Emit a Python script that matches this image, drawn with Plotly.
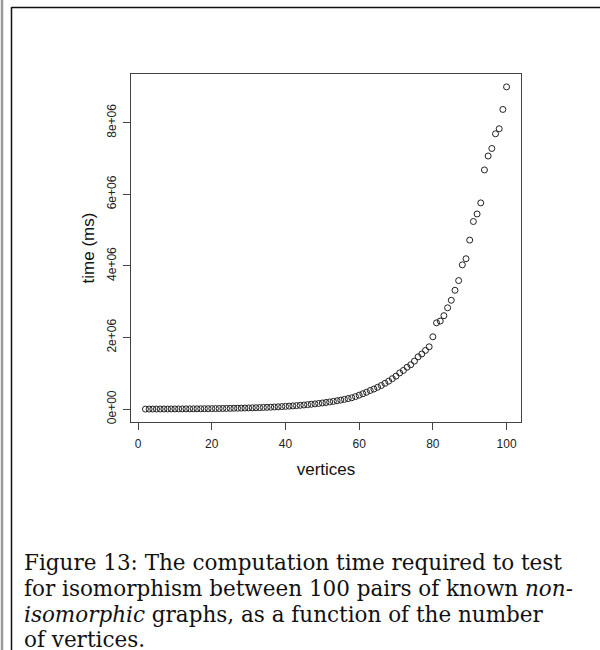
import plotly.graph_objects as go

vertices = list(range(2, 101))
time_ms = [
    1000, 1500, 2000, 2500, 3000, 3500, 4000, 4500, 5000,            # 2-10
    5500, 6000, 6800, 7500, 8200, 9000, 10000, 11000, 12000, 13500,  # 11-20
    14500, 16000, 17500, 19000, 21000, 23000, 25000, 27000, 30000, 33000,  # 21-30
    36000, 39000, 42000, 46000, 50000, 54000, 59000, 64000, 70000, 76000,  # 31-40
    83000, 90000, 98000, 106000, 115000, 125000, 135000, 146000, 158000, 171000,  # 41-50
    185000, 200000, 216000, 233000, 252000, 272000, 294000, 317000, 350000, 390000,  # 51-60
    430000, 470000, 520000, 560000, 610000, 660000, 720000, 780000, 850000, 920000,  # 61-70
    1010000, 1080000, 1170000, 1240000, 1340000, 1460000, 1540000, 1640000, 1740000, 2020000,  # 71-80
    2410000, 2460000, 2610000, 2830000, 3040000, 3320000, 3590000, 4030000, 4200000, 4720000,  # 81-90
    5240000, 5450000, 5760000, 6680000, 7070000, 7280000, 7690000, 7830000, 8370000, 9000000,  # 91-100
]

x_ticks = [0, 20, 40, 60, 80, 100]
y_ticks = [0, 2e6, 4e6, 6e6, 8e6]
y_tick_labels = ["0e+00", "2e+06", "4e+06", "6e+06", "8e+06"]

caption_lines = [
    "Figure 13: The computation time required to test",
    "for isomorphism between 100 pairs of known <i>non-</i>",
    "<i>isomorphic</i> graphs, as a function of the number",
    "of vertices.",
]

fig = go.Figure()
fig.add_trace(go.Scatter(
    x=vertices, y=time_ms, mode="markers",
    marker=dict(symbol="circle-open", size=6, color="#222222", line=dict(width=1, color="#222222")),
    showlegend=False,
))

axis_common = dict(
    showline=True, linecolor="#444444", linewidth=1, mirror=True,
    ticks="outside", ticklen=7, tickcolor="#444444", tickwidth=1,
    showgrid=False, zeroline=False,
    tickfont=dict(family="Liberation Sans, Arial, sans-serif", size=12, color="#222222"),
    title_font=dict(family="Liberation Sans, Arial, sans-serif", size=17, color="#111111"),
)

fig.update_xaxes(range=[-1.92, 103.92], tickvals=x_ticks, ticklabelstandoff=4,
                 title_text="vertices", title_standoff=12, **axis_common)
fig.update_yaxes(range=[-360000, 9360000], tickvals=y_ticks, ticktext=y_tick_labels,
                 tickangle=-90, ticklabelstandoff=2,
                 title_text="time (ms)", title_standoff=6, **axis_common)

pw = 390.0
ph = 348.0
def px_x(p):
    return (p - 131) / pw
def px_y(p):
    return (422 - p) / ph

shapes = [
    dict(type="line", xref="paper", yref="paper", x0=px_x(2), x1=px_x(2), y0=px_y(0), y1=px_y(650),
         line=dict(color="#9a9a9a", width=2.5)),
    dict(type="line", xref="paper", yref="paper", x0=px_x(11.5), x1=px_x(11.5), y0=px_y(7), y1=px_y(650),
         line=dict(color="#111111", width=1.5)),
    dict(type="line", xref="paper", yref="paper", x0=px_x(11.5), x1=px_x(600), y0=px_y(7.5), y1=px_y(7.5),
         line=dict(color="#111111", width=1.5)),
]

line_y = [562, 588, 614, 639]
annotations = []
for txt, yy in zip(caption_lines, line_y):
    annotations.append(dict(
        text=txt, xref="paper", yref="paper", x=px_x(22), y=px_y(yy),
        xanchor="left", yanchor="middle", showarrow=False,
        font=dict(family="DejaVu Serif, Liberation Serif, serif", size=21.5, color="#111111"),
    ))

fig.update_layout(
    width=600, height=650,
    margin=dict(l=131, r=79, t=74, b=228),
    paper_bgcolor="white", plot_bgcolor="white",
    shapes=shapes, annotations=annotations,
)

fig.write_html("out.html", config={"displayModeBar": False},
               post_script="document.body.style.margin='0';document.body.style.overflow='hidden';")
